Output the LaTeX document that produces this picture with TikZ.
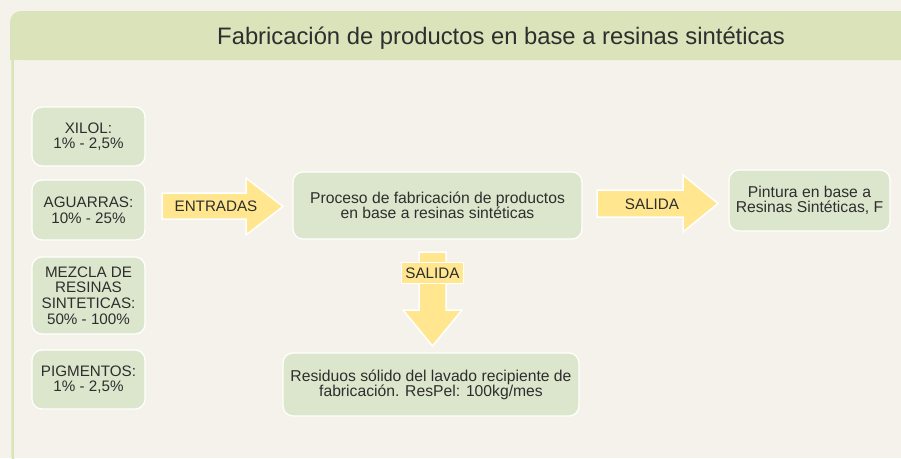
\documentclass[tikz,border=0pt]{standalone}
\usepackage{fontspec}
\setmainfont{Liberation Sans}
\definecolor{bgc}{HTML}{F4F2EA}
\definecolor{headc}{HTML}{DAE3B9}
\definecolor{boxc}{HTML}{DCE6CC}
\definecolor{yelc}{HTML}{FFE68F}
\definecolor{txtc}{HTML}{2E2E2E}
\begin{document}
\begin{tikzpicture}[x=1pt,y=-1pt,
  greenbox/.style={rectangle, rounded corners=10pt, fill=boxc, draw=white, line width=1.3pt,
    text=txtc, align=center, inner sep=0pt},
  smallbox/.style={greenbox, minimum width=113pt, font=\fontsize{15.2}{15.6}\selectfont},
  bigbox/.style={greenbox, font=\fontsize{15.7}{15}\selectfont},
  blockarrow/.style={fill=yelc, draw=white, line width=1.5pt, line join=miter},
  arrowtext/.style={text=txtc, font=\fontsize{15.2}{16}\selectfont, inner sep=0pt}]
\useasboundingbox (0,0) rectangle (901,458);
\fill[bgc] (0,0) rectangle (901,458);
% frame
\begin{scope}
\clip (0,0) rectangle (901,458);
\draw[headc, line width=2.5pt, rounded corners=12pt] (12.5,55) -- (12.5,468) -- (60,468);
\fill[headc, rounded corners=11pt] (10,60) -- (10,11) -- (920,11) -- (920,60) -- cycle;
\fill[headc] (10,40) rectangle (30,60);
\end{scope}
\node[text=txtc, font=\fontsize{23.8}{26}\selectfont, inner sep=0pt] (title) at (501,38) {Fabricación de productos en base a resinas sintéticas};
% left inputs
\node[smallbox, minimum height=59pt] (xilol) at (88.5,136.5) {XILOL:\\1\% - 2,5\%};
\node[smallbox, minimum height=60pt] (aguarras) at (88.5,210) {AGUARRAS:\\10\% - 25\%};
\node[smallbox, minimum height=77pt] (mezcla) at (88.5,295.5) {MEZCLA DE\\RESINAS\\SINTETICAS:\\50\% - 100\%};
\node[smallbox, minimum height=59pt] (pigm) at (88.5,379.5) {PIGMENTOS:\\1\% - 2,5\%};
% main boxes
\node[bigbox, minimum width=289pt, minimum height=67pt] (proceso) at (437.5,205.5) {Proceso de fabricación de productos\\en base a resinas sintéticas};
\node[bigbox, minimum width=161pt, minimum height=61pt] (pintura) at (809.5,200.5) {Pintura en base a\\Resinas Sintéticas, F};
\node[bigbox, minimum width=296pt, minimum height=63pt] (residuos) at (431,384.5) {Residuos sólido del lavado recipiente de\\fabricación. ResPel: 100kg/mes};
% ENTRADAS arrow
\draw[blockarrow] (162,193) -- (246,193) -- (246,178) -- (283,206.5) -- (246,235) -- (246,219) -- (162,219) -- cycle;
\node[arrowtext] (entradas) at (216,206.5) {ENTRADAS};
% SALIDA right arrow
\draw[blockarrow] (597,190) -- (683,190) -- (683,175) -- (718,203.5) -- (683,232) -- (683,217) -- (597,217) -- cycle;
\node[arrowtext] (salida1) at (652,204) {SALIDA};
% SALIDA down arrow
\draw[blockarrow] (419,252) -- (446,252) -- (446,310) -- (462,310) -- (432.5,346) -- (403,310) -- (419,310) -- cycle;
\node[arrowtext, fill=yelc, draw=white, line width=1.5pt, minimum width=62pt, minimum height=21pt] (salida2) at (432.5,273) {SALIDA};
\end{tikzpicture}
\end{document}
